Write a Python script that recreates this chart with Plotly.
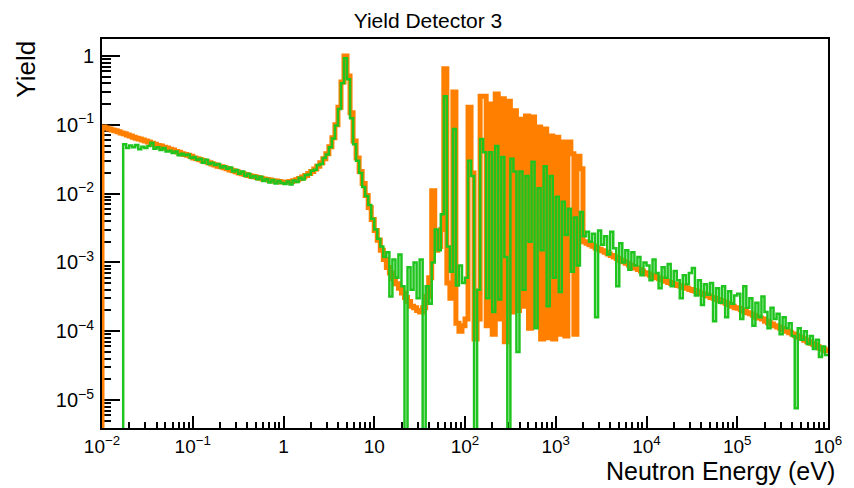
import numpy as np
import plotly.graph_objects as go

# ---------------- data ----------------
BINS_PER_DECADE = 30          # common log binning of both histograms
E_MIN_EXP, E_MAX_EXP = -2, 6  # 1e-2 eV ... 1e6 eV

# Orange histogram (calculated yield), one value per bin, decade by decade
orange_yield = [
    # 1e-2 .. 1e-1
    0.093, 0.090, 0.087, 0.084, 0.082, 0.079, 0.076, 0.074, 0.071, 0.069,
    0.066, 0.064, 0.062, 0.060, 0.058, 0.056, 0.054, 0.052, 0.050, 0.049,
    0.047, 0.046, 0.044, 0.043, 0.041, 0.040, 0.038, 0.037, 0.036, 0.035,
    # 1e-1 .. 1
    0.033, 0.032, 0.031, 0.030, 0.029, 0.028, 0.027, 0.026, 0.025, 0.0245,
    0.0237, 0.0229, 0.0221, 0.0214, 0.0207, 0.0200, 0.0194, 0.0189, 0.0184, 0.0179,
    0.0175, 0.0171, 0.0167, 0.0163, 0.0160, 0.0157, 0.0154, 0.0152, 0.0150, 0.0148,
    # 1 .. 10
    0.0147, 0.0147, 0.0150, 0.0154, 0.0159, 0.0166, 0.0174, 0.0184, 0.0196, 0.021,
    0.0228, 0.025, 0.028, 0.032, 0.038, 0.048, 0.065, 0.10, 0.18, 0.42,
    1.0, 0.51, 0.15, 0.058, 0.033, 0.021, 0.014, 0.0094, 0.0063, 0.0042,
    # 10 .. 1e2
    0.0029, 0.0021, 0.0015, 0.0011, 8.4e-4, 7.0e-4, 5.8e-4, 4.9e-4, 4.2e-4, 3.6e-4,
    3.1e-4, 2.7e-4, 2.3e-4, 2.2e-4, 2.0e-4, 1.9e-4, 2.2e-4, 3.2e-4, 6.0e-4, 0.011,
    1.5e-3, 1.7e-3, 3.0e-3, 0.65, 5.0e-4, 3.0e-4, 0.30, 1.3e-4, 1.0e-4, 1.2e-4,
    # 1e2 .. 1e3
    1.5e-4, 0.18, 0.020, 7.7e-5, 1.5e-4, 0.26, 0.26, 1.2e-4, 0.20, 9.0e-5,
    0.28, 1.5e-4, 0.24, 7.0e-5, 0.22, 1.9e-4, 0.16, 2.0e-4, 0.12, 2.3e-4,
    0.134, 1.1e-4, 0.13, 1.2e-4, 0.093, 7.7e-5, 0.087, 8.0e-5, 0.069, 7.7e-5,
    # 1e3 .. 1e4
    0.066, 9.0e-5, 0.056, 8.5e-5, 0.056, 0.038, 9.0e-5, 0.035, 0.023, 2.0e-3,
    1.9e-3, 1.8e-3, 1.72e-3, 1.62e-3, 1.55e-3, 1.48e-3, 1.40e-3, 1.33e-3, 1.26e-3, 1.20e-3,
    1.14e-3, 1.07e-3, 1.02e-3, 9.7e-4, 9.2e-4, 8.7e-4, 8.3e-4, 7.9e-4, 7.5e-4, 7.1e-4,
    # 1e4 .. 1e5
    6.8e-4, 6.5e-4, 6.3e-4, 6.0e-4, 5.8e-4, 5.6e-4, 5.3e-4, 5.1e-4, 4.95e-4, 4.8e-4,
    4.6e-4, 4.5e-4, 4.3e-4, 4.2e-4, 4.05e-4, 3.9e-4, 3.8e-4, 3.6e-4, 3.5e-4, 3.4e-4,
    3.25e-4, 3.1e-4, 3.0e-4, 2.9e-4, 2.8e-4, 2.65e-4, 2.55e-4, 2.45e-4, 2.3e-4, 2.2e-4,
    # 1e5 .. 1e6
    2.15e-4, 2.05e-4, 1.95e-4, 1.85e-4, 1.8e-4, 1.7e-4, 1.6e-4, 1.55e-4, 1.5e-4, 1.4e-4,
    1.33e-4, 1.27e-4, 1.2e-4, 1.15e-4, 1.1e-4, 1.05e-4, 1.0e-4, 9.5e-5, 9.1e-5, 8.6e-5,
    8.2e-5, 7.8e-5, 7.4e-5, 7.0e-5, 6.7e-5, 6.4e-5, 6.0e-5, 5.7e-5, 5.5e-5, 5.2e-5,
]

# Green histogram (measured yield), same bins; 0 = empty bin
green_yield = [
    # 1e-2 .. 1e-1
    0, 0, 0, 0, 0, 0, 0, 0.052, 0.046, 0.050,
    0.047, 0.051, 0.044, 0.048, 0.046, 0.049, 0.055, 0.045, 0.047, 0.043,
    0.046, 0.041, 0.042, 0.039, 0.041, 0.036, 0.038, 0.036, 0.037, 0.033,
    # 1e-1 .. 1
    0.034, 0.031, 0.032, 0.028, 0.031, 0.027, 0.028, 0.026, 0.027, 0.024,
    0.025, 0.023, 0.024, 0.021, 0.022, 0.0195, 0.021, 0.018, 0.0195, 0.0172,
    0.018, 0.0162, 0.0175, 0.0152, 0.0163, 0.0145, 0.0158, 0.0140, 0.0152, 0.0142,
    # 1 .. 10
    0.0138, 0.0150, 0.0136, 0.0155, 0.0147, 0.0170, 0.0160, 0.0186, 0.0190, 0.0215,
    0.0222, 0.026, 0.027, 0.033, 0.037, 0.047, 0.063, 0.098, 0.17, 0.40,
    0.93, 0.46, 0.125, 0.052, 0.030, 0.020, 0.0125, 0.0092, 0.0068, 0.0043,
    # 10 .. 1e2
    0.0030, 0.0022, 0.0017, 0.0012, 0.0014, 3.2e-4, 1.1e-3, 6.0e-4, 1.3e-3, 4.5e-4,
    0, 8.5e-4, 4.0e-4, 1.0e-3, 3.0e-4, 1.1e-3, 0, 4.5e-4, 2.5e-4, 1.0e-3,
    3.0e-3, 1.5e-3, 5.0e-3, 0.26, 1.7e-3, 7.3e-4, 0.087, 4.6e-4, 9.0e-4, 5.0e-4,
    # 1e2 .. 1e3
    6.0e-4, 0.030, 0.018, 0, 4.0e-4, 0.062, 0.040, 3.0e-4, 0.040, 1.9e-4,
    0.049, 2.9e-4, 0.034, 1.2e-3, 0, 0.032, 0.021, 5.0e-5, 0.021, 4.0e-4,
    0.018, 2.0e-3, 0.029, 1.1e-4, 0.012, 1.5e-3, 0.025, 2.3e-4, 0.018, 6.0e-4,
    # 1e3 .. 1e4
    0.009, 3.7e-4, 0.0076, 2.5e-3, 0.006, 7.3e-4, 0.0045, 9.0e-4, 0.0054, 2.4e-3,
    2.8e-3, 2.0e-3, 2.6e-3, 1.6e-4, 2.9e-3, 1.8e-3, 2.4e-3, 1.3e-3, 2.8e-3, 1.6e-3,
    4.5e-4, 1.9e-3, 1.0e-3, 1.5e-3, 7.8e-4, 1.4e-3, 9.0e-4, 1.2e-3, 6.5e-4, 1.0e-3,
    # 1e4 .. 1e5
    9.0e-4, 5.5e-4, 1.1e-3, 7.0e-4, 4.2e-4, 8.5e-4, 6.0e-4, 9.5e-4, 4.5e-4, 7.5e-4,
    5.5e-4, 3.0e-4, 6.5e-4, 4.8e-4, 7.0e-4, 8.3e-4, 3.3e-4, 5.5e-4, 2.4e-4, 4.8e-4,
    3.4e-4, 5.0e-4, 1.4e-4, 4.2e-4, 2.6e-4, 4.5e-4, 1.6e-4, 3.8e-4, 2.5e-4, 3.3e-4,
    # 1e5 .. 1e6
    3.5e-4, 1.5e-4, 4.5e-4, 2.2e-4, 3.0e-4, 1.2e-4, 2.6e-4, 1.6e-4, 3.2e-4, 1.9e-4,
    1.1e-4, 2.2e-4, 1.5e-4, 1.8e-4, 9.0e-5, 1.6e-4, 1.1e-4, 1.3e-4, 8.5e-5, 7.6e-6,
    1.1e-4, 7.5e-5, 1.0e-4, 6.5e-5, 8.5e-5, 5.5e-5, 7.5e-5, 4.2e-5, 6.0e-5, 4.5e-5,
]

x_tick_vals = [1e-2, 1e-1, 1, 10, 1e2, 1e3, 1e4, 1e5, 1e6]
x_tick_text = ["10<sup>−2</sup>", "10<sup>−1</sup>", "1", "10", "10<sup>2</sup>",
               "10<sup>3</sup>", "10<sup>4</sup>", "10<sup>5</sup>", "10<sup>6</sup>"]
y_tick_vals = [1e-5, 1e-4, 1e-3, 1e-2, 1e-1, 1]
y_tick_text = ["10<sup>−5</sup>", "10<sup>−4</sup>", "10<sup>−3</sup>",
               "10<sup>−2</sup>", "10<sup>−1</sup>", "1"]

# ---------------- build step histograms ----------------
n_bins = BINS_PER_DECADE * (E_MAX_EXP - E_MIN_EXP)
assert len(orange_yield) == n_bins and len(green_yield) == n_bins
edges = 10.0 ** (E_MIN_EXP + np.arange(n_bins + 1) / BINS_PER_DECADE)
FLOOR = 1e-9  # empty bins are drawn at the bottom of the frame (as ROOT does)


def step_xy(vals):
    ys = [v if v > 0 else FLOOR for v in vals]
    xs = [edges[0]] + list(edges)
    ys = [FLOOR] + ys + [ys[-1]]
    return xs, ys


fig = go.Figure()
ox, oy = step_xy(orange_yield)
gx, gy = step_xy(green_yield)
fig.add_trace(go.Scatter(x=ox, y=oy, mode="lines", line_shape="hv",
                         line=dict(color="#ff8000", width=5), hoverinfo="skip"))
fig.add_trace(go.Scatter(x=gx, y=gy, mode="lines", line_shape="hv",
                         line=dict(color="#1fc41f", width=2.5), hoverinfo="skip"))

minor_x = [m * 10.0 ** k for k in range(E_MIN_EXP, E_MAX_EXP) for m in range(2, 10)]
minor_y = [m * 10.0 ** k for k in range(-6, 1) for m in range(2, 10)]

FONT = "Liberation Sans, Arial, Helvetica, sans-serif"
fig.update_layout(
    width=854, height=488,
    margin=dict(l=102, r=19, t=39, b=60),
    paper_bgcolor="white", plot_bgcolor="white",
    showlegend=False,
    font=dict(family=FONT, color="black", size=20),
    title=dict(text="Yield Detector 3", x=428 / 854, xanchor="center", xref="container",
               y=1 - 21 / 488, yanchor="middle", yref="container",
               font=dict(family=FONT, size=21, color="black")),
)
fig.update_xaxes(
    type="log", range=[E_MIN_EXP, E_MAX_EXP],
    showline=True, linecolor="black", linewidth=2, mirror=True,
    showgrid=False, zeroline=False, layer="below traces",
    ticks="inside", ticklen=12, tickwidth=2, tickcolor="black",
    tickmode="array", tickvals=x_tick_vals, ticktext=x_tick_text,
    tickfont=dict(family=FONT, size=19, color="black"),
    ticklabelstandoff=0,
    minor=dict(tickmode="array", tickvals=minor_x, ticks="inside", ticklen=6,
               tickwidth=2, tickcolor="black", showgrid=False),
)
fig.update_yaxes(
    type="log", range=[-5.407, 0.247],
    showline=True, linecolor="black", linewidth=2, mirror=True,
    showgrid=False, zeroline=False, layer="below traces",
    ticks="inside", ticklen=18, tickwidth=2, tickcolor="black",
    tickmode="array", tickvals=y_tick_vals, ticktext=y_tick_text,
    tickfont=dict(family=FONT, size=20, color="black"),
    ticklabelstandoff=2,
    minor=dict(tickmode="array", tickvals=minor_y, ticks="inside", ticklen=9,
               tickwidth=2, tickcolor="black", showgrid=False),
)
fig.add_annotation(text="Neutron Energy (eV)", xref="paper", yref="paper",
                   x=1.012, xanchor="right", y=-(487 - 428) / 389, yanchor="bottom",
                   showarrow=False, font=dict(family=FONT, size=25, color="black"))
fig.add_annotation(text="Yield", xref="paper", yref="paper", textangle=-90,
                   x=(25 - 102) / 733, xanchor="center", y=1 - 30 / 389, yanchor="middle",
                   showarrow=False, font=dict(family=FONT, size=26, color="black"))

fig.write_html("out.html")
